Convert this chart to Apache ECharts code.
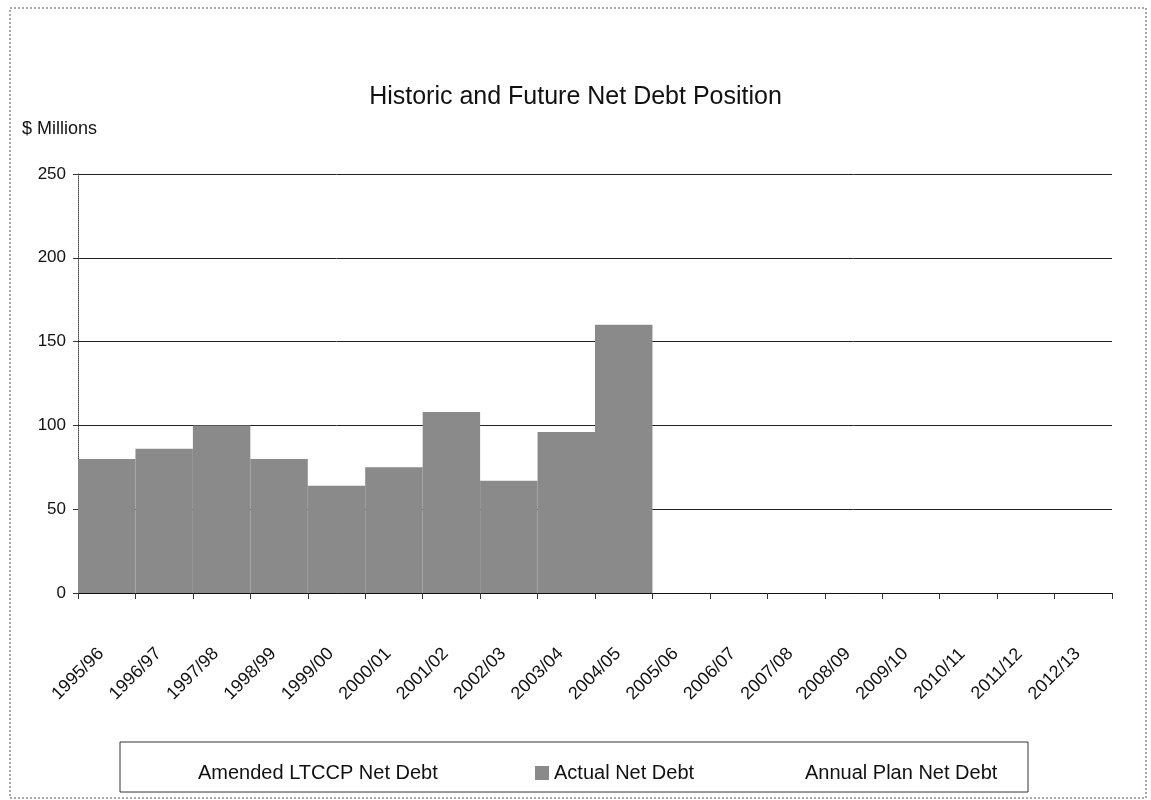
<!DOCTYPE html>
<html>
<head>
<meta charset="utf-8">
<script src="https://cdn.jsdelivr.net/npm/echarts@6/dist/echarts.min.js"></script>
<style>
  html, body { margin: 0; padding: 0; background: #fff; }
  #main { width: 1151px; height: 800px; }
</style>
</head>
<body>
<div id="main"></div>
<script>
var years = ['1995/96', '1996/97', '1997/98', '1998/99', '1999/00', '2000/01', '2001/02', '2002/03', '2003/04',
  '2004/05', '2005/06', '2006/07', '2007/08', '2008/09', '2009/10', '2010/11', '2011/12', '2012/13'];
// actual net debt, $ millions (no values after 2004/05)
var actualDebt = [80, 86, 100, 80, 64, 75, 108, 67, 96, 160, null, null, null, null, null, null, null, null];
// plan lines did not survive the scan, kept empty for the legend
var amendedDebt = [];
var annualPlanDebt = [];
// the scanned labels sit on the tick marks, so one spare slot at the end
var tickLabels = years.concat(['']);

var font = "'Liberation Sans', Arial, sans-serif";
var chart = echarts.init(document.getElementById('main'));

function legendAt(name, left, icon) {
  return {
    top: 758,
    left: left,
    itemWidth: 14,
    itemHeight: 14,
    itemGap: 5,
    textStyle: { fontFamily: font, fontSize: 20, color: '#111' },
    data: [{ name: name, icon: icon }]
  };
}

chart.setOption({
  backgroundColor: '#fff',
  animation: false,
  title: {
    text: 'Historic and Future Net Debt Position',
    left: 'center',
    top: 80,
    textStyle: { fontFamily: font, fontSize: 25, fontWeight: 'normal', color: '#111' }
  },
  graphic: [
    {
      type: 'rect',
      shape: { x: 10, y: 8, width: 1136, height: 790 },
      style: { fill: 'none', stroke: '#555', lineWidth: 1, lineDash: [2, 2] }
    },
    {
      type: 'text', left: 22, top: 120,
      style: { text: '$ Millions', font: '18px ' + font, fill: '#111' }
    },
    {
      type: 'rect',
      shape: { x: 120, y: 742, width: 908, height: 50 },
      style: { fill: 'none', stroke: '#333', lineWidth: 1 }
    }
  ],
  legend: [
    legendAt('Amended LTCCP Net Debt', 174, 'none'),
    legendAt('Actual Net Debt', 530, 'rect'),
    legendAt('Annual Plan Net Debt', 781, 'none')
  ],
  grid: { left: 78, right: 39, top: 174, bottom: 207 },
  xAxis: [
    {
      type: 'category',
      data: years,
      boundaryGap: true,
      axisLine: { lineStyle: { color: '#111', width: 1 } },
      axisTick: { show: true, length: 6, lineStyle: { color: '#333' } },
      axisLabel: { show: false }
    },
    {
      type: 'category',
      data: tickLabels,
      boundaryGap: false,
      position: 'bottom',
      axisLine: { show: false },
      axisTick: { show: false },
      axisLabel: {
        rotate: 45, align: 'center', verticalAlign: 'middle', margin: 81,
        interval: 0, fontFamily: font, fontSize: 18, color: '#111'
      }
    }
  ],
  yAxis: {
    type: 'value',
    min: 0,
    max: 250,
    interval: 50,
    axisLine: { show: true, lineStyle: { color: '#444', type: 'dotted' } },
    axisTick: { show: true, length: 5, lineStyle: { color: '#333' } },
    axisLabel: { fontFamily: font, fontSize: 17, color: '#111', margin: 12 },
    splitLine: { show: true, lineStyle: { color: '#222', width: 1 } }
  },
  series: [
    {
      name: 'Amended LTCCP Net Debt',
      type: 'line',
      data: amendedDebt,
      showSymbol: false,
      lineStyle: { color: '#ccc' },
      itemStyle: { color: '#ccc' }
    },
    {
      name: 'Actual Net Debt',
      type: 'bar',
      data: actualDebt,
      barCategoryGap: '0%',
      itemStyle: { color: '#8a8a8a' }
    },
    {
      name: 'Annual Plan Net Debt',
      type: 'line',
      data: annualPlanDebt,
      showSymbol: false,
      lineStyle: { color: '#ccc' },
      itemStyle: { color: '#ccc' }
    }
  ]
});
</script>
</body>
</html>
